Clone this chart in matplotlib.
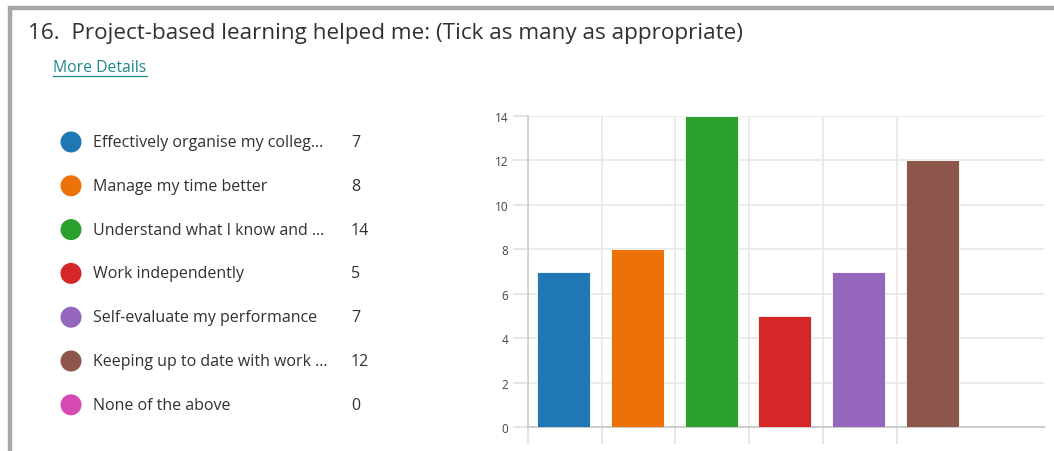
import matplotlib.pyplot as plt
from matplotlib.patches import Circle
import numpy as np

# Survey data
options = [
    "Effectively organise my colleg...",
    "Manage my time better",
    "Understand what I know and ...",
    "Work independently",
    "Self-evaluate my performance",
    "Keeping up to date with work ...",
    "None of the above",
]
counts = [7, 8, 14, 5, 7, 12, 0]
colors = ["#1f77b4", "#ec7109", "#2ca02c", "#d62728", "#9467bd", "#8c564b", "#d64bb3"]
y_ticks = [0, 2, 4, 6, 8, 10, 12, 14]

title = "16.  Project-based learning helped me: (Tick as many as appropriate)"

W, H = 1054, 452
plt.rcParams['font.family'] = ['Open Sans', 'DejaVu Sans']

fig = plt.figure(figsize=(W / 100, H / 100), dpi=100)
fig.set_facecolor('white')

# overlay in pixel coordinates for the card frame, title and legend
over = fig.add_axes([0, 0, 1, 1])
over.set_xlim(0, W)
over.set_ylim(H, 0)
over.axis('off')
over.plot([8, W], [8.5, 8.5], color='#a6a6a6', lw=3.2, solid_capstyle='butt')
over.plot([10, 10], [7, H], color='#a6a6a6', lw=3.2, solid_capstyle='butt')

over.text(28, 33, title, fontsize=16.2, color='#323130', va='center', ha='left')
over.text(53, 68, "More Details", fontsize=11.3, color='#1f8a8a', va='center',
          ha='left')
over.plot([53, 147], [77, 77], color='#1f8a8a', lw=0.9)

row0, step = 143, 43.8
for i, (lab, n, c) in enumerate(zip(options, counts, colors)):
    y = row0 + i * step
    over.add_patch(Circle((71, y), 10.5, color=c, lw=0))
    over.text(93, y, lab, fontsize=11.5, color='#323130', va='center', ha='left')
    over.text(351, y, str(n), fontsize=11.5, color='#323130', va='center',
              ha='left')

# bar chart
ax = fig.add_axes([528 / W, 1 - 428 / H, 516 / W, 311 / H])
x = np.arange(len(counts))
ax.bar(x - 0.015, counts, width=0.72, color=colors, edgecolor='white',
       linewidth=0.6, zorder=3)
ax.set_xlim(-0.5, len(counts) - 0.5)
ax.set_ylim(0, 14)
ax.set_yticks(y_ticks)
ax.set_xticks([])
ax.set_xticks(np.arange(len(counts) - 1) - 0.5, minor=True)
ax.grid(axis='y', color='#e8e8e8', lw=1.2, zorder=0)
ax.grid(axis='x', which='minor', color='#e8e8e8', lw=1.2, zorder=0)
ax.tick_params(axis='y', length=11, color='#e0e0e0', width=1.2, labelsize=8.5,
               labelcolor='#444444', pad=3)
ax.tick_params(axis='x', which='minor', length=12, color='#e0e0e0', width=1.2)
for s in ['top', 'right']:
    ax.spines[s].set_visible(False)
ax.spines['left'].set_color('#cccccc')
ax.spines['bottom'].set_color('#cccccc')
ax.spines['left'].set_linewidth(1.2)
ax.spines['bottom'].set_linewidth(1.5)

fig.savefig('out.png', dpi=100)
